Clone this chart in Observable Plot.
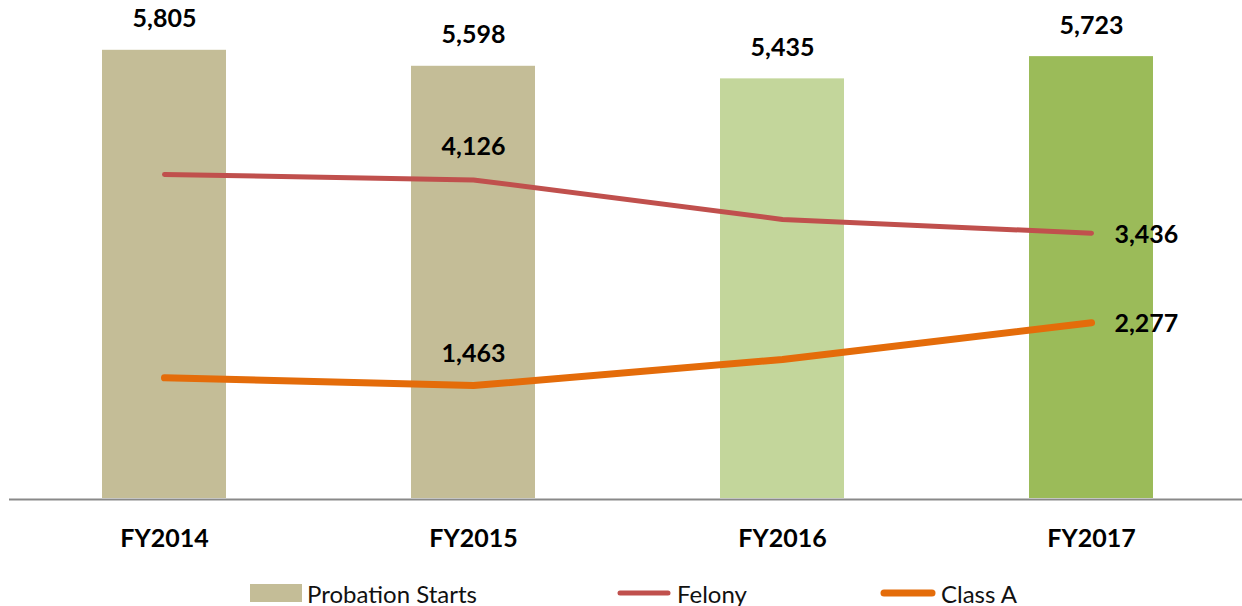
<!DOCTYPE html>
<html>
<head>
<meta charset="utf-8">
<script src="https://cdn.jsdelivr.net/npm/d3@7"></script>
<script src="https://cdn.jsdelivr.net/npm/@observablehq/plot@0.6"></script>
<style>
  html, body { margin: 0; padding: 0; background: #fff; }
  body { width: 1242px; height: 606px; overflow: hidden; font-family: Lato, "Noto Sans", sans-serif; }
  #legend { position: relative; height: 46px; font-size: 24px; color: #111; }
  .item { position: absolute; top: 20px; display: flex; align-items: center; height: 26px; }
  .item span { margin-left: 5px; }
</style>
</head>
<body>
<div id="chart"></div>
<div id="legend"></div>
<script>
const years = ["FY2014", "FY2015", "FY2016", "FY2017"];
const probationStarts = [5805, 5598, 5435, 5723];
const felony = [4197, 4126, 3614, 3436];
const classA = [1563, 1463, 1800, 2277];
const barColors = ["#C4BD97", "#C4BD97", "#C3D69B", "#9BBB59"];
const felonyLabeled = ["FY2015", "FY2017"];
const classALabeled = ["FY2015", "FY2017"];
const seriesNames = ["Probation Starts", "Felony", "Class A"];
const seriesColors = ["#C4BD97", "#C0504D", "#E46C0A"];

const bars = years.map((y, i) => ({year: y, value: probationStarts[i], color: barColors[i]}));
const fel = years.map((y, i) => ({year: y, value: felony[i]}));
const cla = years.map((y, i) => ({year: y, value: classA[i]}));
const fmt = d3.format(",");
const font = "Lato, 'Noto Sans', sans-serif";

const chart = Plot.plot({
  width: 1242,
  height: 560,
  marginLeft: 9,
  marginRight: 0,
  marginTop: 0,
  marginBottom: 62,
  style: {fontFamily: font, background: "#fff"},
  x: {domain: years, range: [9, 1245], paddingInner: 0.6, paddingOuter: 0.3, label: null},
  y: {domain: [0, 6450], axis: null},
  marks: [
    Plot.barY(bars, {x: "year", y: "value", fill: "color"}),
    Plot.ruleY([0], {stroke: "#898989", strokeWidth: 2, dy: 1}),
    Plot.line(fel, {x: "year", y: "value", stroke: seriesColors[1], strokeWidth: 5, strokeLinecap: "round", strokeLinejoin: "round"}),
    Plot.line(cla, {x: "year", y: "value", stroke: seriesColors[2], strokeWidth: 7, strokeLinecap: "round", strokeLinejoin: "round"}),
    Plot.text(bars, {x: "year", y: "value", text: d => fmt(d.value), dy: -31, fontSize: 25, fontWeight: "bold", fill: "#000"}),
    Plot.text(fel.filter(d => d.year === felonyLabeled[0]), {x: "year", y: "value", text: d => fmt(d.value), dy: -33, fontSize: 25, fontWeight: "bold", fill: "#000"}),
    Plot.text(fel.filter(d => d.year === felonyLabeled[1]), {x: "year", y: "value", text: d => fmt(d.value), dx: 23, dy: 2, textAnchor: "start", fontSize: 25, fontWeight: "bold", fill: "#000"}),
    Plot.text(cla.filter(d => d.year === classALabeled[0]), {x: "year", y: "value", text: d => fmt(d.value), dy: -32, fontSize: 25, fontWeight: "bold", fill: "#000"}),
    Plot.text(cla.filter(d => d.year === classALabeled[1]), {x: "year", y: "value", text: d => fmt(d.value), dx: 23, dy: 1, textAnchor: "start", fontSize: 25, fontWeight: "bold", fill: "#000"}),
    Plot.axisX({tickSize: 0, tickPadding: 31, fontSize: 25, fontWeight: "bold", fill: "#000"})
  ]
});
document.getElementById("chart").appendChild(chart);

// legend
const legend = document.getElementById("legend");
const lefts = [250, 616, 880];
seriesNames.forEach((name, i) => {
  const item = document.createElement("div");
  item.className = "item";
  item.style.left = lefts[i] + "px";
  let sw;
  if (i === 0) {
    sw = `<svg width="52" height="18"><rect width="52" height="18" fill="${seriesColors[0]}"/></svg>`;
  } else {
    const w = i === 1 ? 5 : 7;
    sw = `<svg width="56" height="18"><line x1="4" x2="52" y1="9" y2="9" stroke="${seriesColors[i]}" stroke-width="${w}" stroke-linecap="round"/></svg>`;
  }
  item.innerHTML = sw + `<span>${name}</span>`;
  legend.appendChild(item);
});
</script>
</body>
</html>
